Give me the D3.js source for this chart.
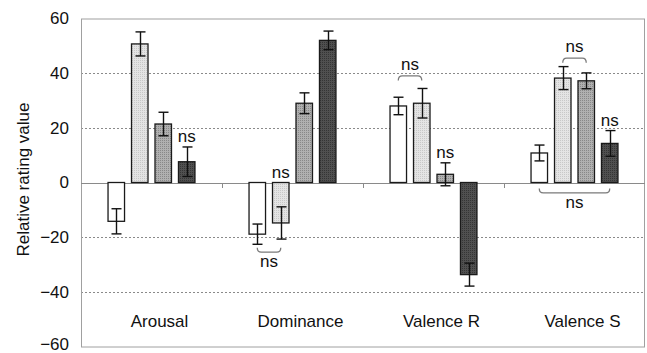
<!DOCTYPE html>
<html>
<head>
<meta charset="utf-8">
<script src="https://cdn.jsdelivr.net/npm/d3@7"></script>
<style>
  html, body { margin: 0; padding: 0; background: #fff; }
  svg { display: block; font-family: "Liberation Sans", Arial, sans-serif; }
</style>
</head>
<body>
<svg id="chart" width="647" height="353"></svg>
<script>
// ---- data ----
const categories = ["Arousal", "Dominance", "Valence R", "Valence S"];
const seriesNames = ["s1", "s2", "s3", "s4"];
const values = [
  [-14.2, 50.7, 21.4, 7.6],    // Arousal
  [-18.9, -14.8, 29.0, 52.0],  // Dominance
  [28.0, 29.0, 3.0, -33.7],    // Valence R
  [10.8, 38.2, 37.2, 14.3]     // Valence S
];
const errors = [
  [4.6, 4.4, 4.3, 5.4],
  [3.7, 5.9, 3.8, 3.4],
  [3.2, 5.4, 4.2, 4.2],
  [2.9, 4.2, 2.9, 4.7]
];
const yTicks = [60, 40, 20, 0, -20, -40, -60];
// single-bar "ns" marks: [category index, series index]
const nsMarks = [[0, 3], [1, 1], [2, 2], [3, 3]];
// bracket "ns" marks: category, from series, to series, side, level (value units)
const brackets = [
  { cat: 1, from: 0, to: 1, side: "below", level: -25.5 },
  { cat: 2, from: 0, to: 1, side: "above", level: 39.0 },
  { cat: 3, from: 1, to: 2, side: "above", level: 45.5 },
  { cat: 3, from: 0, to: 3, side: "below", level: -3.8 }
];

// ---- layout ----
const svg = d3.select("#chart");
const L = 81, R = 645, T = 18.5, B = 346.5;

const x = d3.scaleBand().domain(categories).range([L, R]).paddingInner(0).paddingOuter(0);
const xs = d3.scaleBand().domain(seriesNames).range([0, x.bandwidth()])
  .paddingInner(0.255).paddingOuter(1.13);
const y = d3.scaleLinear().domain([-60, 60]).range([B, T]);

// patterns
const defs = svg.append("defs");
function checker(id, c1, c2) {
  const p = defs.append("pattern").attr("id", id).attr("patternUnits", "userSpaceOnUse")
    .attr("width", 4).attr("height", 4);
  p.append("rect").attr("width", 4).attr("height", 4).attr("fill", c1);
  p.append("rect").attr("x", 0).attr("y", 0).attr("width", 1).attr("height", 1).attr("fill", c2);
  p.append("rect").attr("x", 2).attr("y", 2).attr("width", 1).attr("height", 1).attr("fill", c2);
  p.append("rect").attr("x", 2).attr("y", 0).attr("width", 1).attr("height", 1).attr("fill", c2);
  p.append("rect").attr("x", 0).attr("y", 2).attr("width", 1).attr("height", 1).attr("fill", c2);
}
checker("p2", "#e4e4e4", "#c8c8c8");
checker("p3", "#b0b0b0", "#888888");
checker("p4", "#505050", "#353535");
const fills = ["#ffffff", "url(#p2)", "url(#p3)", "url(#p4)"];

// gridlines (dotted)
svg.append("g").selectAll("line")
  .data(yTicks.filter(t => t !== 0 && t !== 60 && t !== -60))
  .join("line")
  .attr("x1", L).attr("x2", R)
  .attr("y1", d => Math.round(y(d)) + 0.5).attr("y2", d => Math.round(y(d)) + 0.5)
  .attr("stroke", "#8a8a8a").attr("stroke-width", 1).attr("stroke-dasharray", "2,2");

// frame
svg.append("rect").attr("x", L + 0.5).attr("y", T + 0.5)
  .attr("width", R - L - 1).attr("height", B - T)
  .attr("fill", "none").attr("stroke", "#a0a0a0").attr("stroke-width", 1);

// y axis labels
const yAxis = d3.axisLeft(y).tickValues(yTicks).tickSize(0).tickPadding(12);
const gy = svg.append("g").attr("transform", `translate(${L},0)`).call(yAxis);
gy.select(".domain").remove();
gy.selectAll("text").attr("font-size", 17).attr("fill", "#111")
  .attr("font-family", "Liberation Sans, Arial, sans-serif")
  .attr("dy", d => d === -60 ? "0.2em" : "0.32em");

// zero line
const y0 = Math.round(y(0)) + 0.5;
svg.append("line").attr("x1", L).attr("x2", R).attr("y1", y0).attr("y2", y0)
  .attr("stroke", "#8a8a8a").attr("stroke-width", 1.2);

// category separator ticks
svg.append("g").selectAll("line")
  .data(categories.slice(1))
  .join("line")
  .attr("x1", d => x(d) + 0.5).attr("x2", d => x(d) + 0.5)
  .attr("y1", y0).attr("y2", y0 + 4.5)
  .attr("stroke", "#8a8a8a").attr("stroke-width", 1);

// bars
const flat = [];
categories.forEach((c, i) => seriesNames.forEach((s, j) => {
  flat.push({ c, s, i, j, v: values[i][j], e: errors[i][j] });
}));
const bx = d => x(d.c) + xs(d.s);
const bw = xs.bandwidth();

svg.append("g").selectAll("rect")
  .data(flat).join("rect")
  .attr("x", d => bx(d) + 0.5)
  .attr("y", d => y(Math.max(0, d.v)))
  .attr("width", bw - 1)
  .attr("height", d => Math.abs(y(d.v) - y(0)))
  .attr("fill", d => fills[d.j])
  .attr("stroke", "#1a1a1a")
  .attr("stroke-width", 1.3);

// error bars
const eg = svg.append("g").attr("stroke", "#111").attr("stroke-width", 1.4);
flat.forEach(d => {
  const cx = Math.round(bx(d) + bw / 2) + 0.5;
  eg.append("line").attr("x1", cx).attr("x2", cx)
    .attr("y1", y(d.v + d.e)).attr("y2", y(d.v - d.e));
  [d.v + d.e, d.v - d.e].forEach(t => {
    eg.append("line").attr("x1", cx - 5).attr("x2", cx + 5)
      .attr("y1", y(t)).attr("y2", y(t));
  });
});

// category labels
svg.append("g").selectAll("text")
  .data(categories).join("text")
  .attr("x", d => x(d) + x.bandwidth() / 2 + 8)
  .attr("y", 327)
  .attr("text-anchor", "middle")
  .attr("font-size", 17).attr("fill", "#111")
  .text(d => d);

// y title
svg.append("text")
  .attr("transform", `translate(29,${y(0) - 3}) rotate(-90)`)
  .attr("text-anchor", "middle")
  .attr("font-size", 17).attr("fill", "#111")
  .text("Relative rating value");

// single ns marks
svg.append("g").selectAll("text")
  .data(nsMarks).join("text")
  .attr("x", d => x(categories[d[0]]) + xs(seriesNames[d[1]]) + bw / 2)
  .attr("y", d => {
    const v = values[d[0]][d[1]], e = errors[d[0]][d[1]];
    const top = Math.max(0, v + e);
    return y(top) - 5;
  })
  .attr("text-anchor", "middle")
  .attr("font-size", 17).attr("fill", "#111")
  .text("ns");

// brackets
const bg = svg.append("g");
brackets.forEach(b => {
  const cat = categories[b.cat];
  const x1 = x(cat) + xs(seriesNames[b.from]) + bw / 2;
  const x2 = x(cat) + xs(seriesNames[b.to]) + bw / 2;
  const yl = y(b.level);
  const dir = b.side === "below" ? -1 : 1;  // ends point toward bars
  const ye = yl + dir * 4.5;
  const r = 4;
  bg.append("path")
    .attr("d", `M${x1},${ye} Q${x1},${yl} ${x1 + r},${yl} L${x2 - r},${yl} Q${x2},${yl} ${x2},${ye}`)
    .attr("fill", "none").attr("stroke", "#7a7a7a").attr("stroke-width", 1.3);
  bg.append("text")
    .attr("x", (x1 + x2) / 2)
    .attr("y", b.side === "below" ? yl + 15 : yl - 6)
    .attr("text-anchor", "middle")
    .attr("font-size", 17).attr("fill", "#111")
    .text("ns");
});
</script>
</body>
</html>
